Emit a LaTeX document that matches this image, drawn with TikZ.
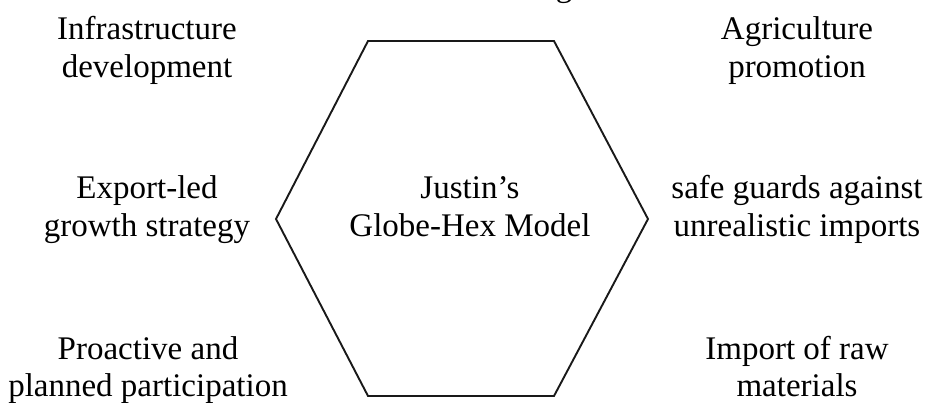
\documentclass[tikz,border=0pt]{standalone}
\usepackage{fontspec}
\setmainfont{Liberation Serif}
\begin{document}
\begin{tikzpicture}[x=1pt,y=-1pt,
  lbl/.style={align=center,anchor=base,inner sep=0pt,font=\fontsize{33}{38}\selectfont},
  lowlbl/.style={lbl,font=\fontsize{33}{37}\selectfont},
  hexline/.style={draw=black!90,line width=1.9pt,line join=miter}]
\useasboundingbox (0,0) rectangle (927,403);
\begin{scope}
\clip (0,0) rectangle (927,403);
\node[lbl] (frag) at (564,-3) {g};
\end{scope}
\coordinate (h1) at (368,41);
\coordinate (h2) at (554,41);
\coordinate (h3) at (648,219);
\coordinate (h4) at (554,396);
\coordinate (h5) at (368,396);
\coordinate (h6) at (276,219);
\draw[hexline] (h1) -- (h2) -- (h3) -- (h4) -- (h5) -- (h6) -- cycle;
\node[lbl] (center) at (470,237) {Justin’s\\Globe-Hex Model};
\node[lbl] (infra) at (147,78) {Infrastructure\\development};
\node[lbl] (agri) at (797,78) {Agriculture\\promotion};
\node[lbl] (export) at (147,237) {Export-led\\growth strategy};
\node[lbl] (safe) at (797,237) {safe guards against\\unrealistic imports};
\node[lowlbl] (proact) at (148,397) {Proactive and\\planned participation};
\node[lowlbl] (import) at (797,397) {Import of raw\\materials};
\end{tikzpicture}
\end{document}
